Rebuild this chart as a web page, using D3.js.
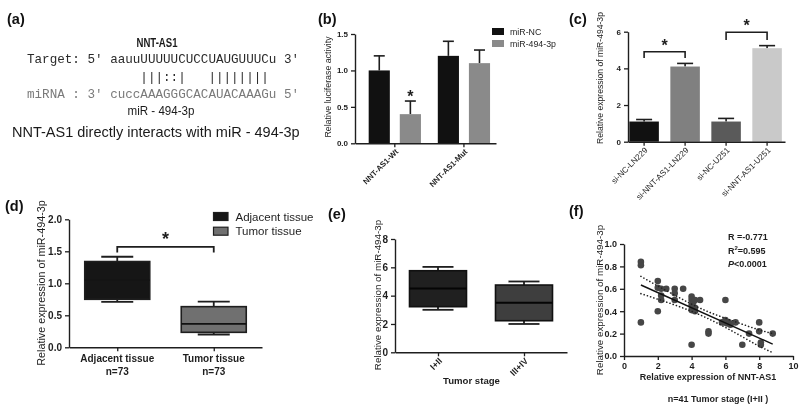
<!DOCTYPE html>
<html><head><meta charset="utf-8">
<script src="https://cdn.jsdelivr.net/npm/d3@7/dist/d3.min.js"></script>
<style>
html,body{margin:0;padding:0;background:#fff;}
svg{display:block;font-family:"Liberation Sans",Arial,sans-serif;will-change:transform;}
.mono{font-family:"Liberation Mono","Courier New",monospace;white-space:pre;}
</style></head>
<body>
<svg id="c" width="800" height="407"></svg>
<script>
// ---------- (a) sequence panel text ----------
const aTitle = "NNT-AS1";
const aTarget = "Target: 5' aauuUUUUUCUCCUAUGUUUCu 3'";
const aPairs  = "               |||::|   ||||||||";
const aMirna  = "miRNA : 3' cuccAAAGGGCACAUACAAAGu 5'";
const aMirName = "miR - 494-3p";
const aCaption = "NNT-AS1 directly interacts with miR - 494-3p";

// ---------- (b) luciferase ----------
const bGroups = ["NNT-AS1-Wt", "NNT-AS1-Mut"];
const bSeries = ["miR-NC", "miR-494-3p"];
const bNC = [1.0, 1.2];
const bNCerr = [0.2, 0.2];
const b494 = [0.4, 1.1];
const b494err = [0.18, 0.18];
const bTicks = [0, 0.5, 1.0, 1.5];

// ---------- (c) qPCR ----------
const cCats = ["si-NC-LN229", "si-NNT-AS1-LN229", "si-NC-U251", "si-NNT-AS1-U251"];
const cVals = [1.1, 4.1, 1.1, 5.1];
const cErr = [0.11, 0.17, 0.17, 0.14];
const cTicks = [0, 2, 4, 6];

// ---------- (d) boxplot tissue ----------
const dCats = ["Adjacent tissue", "Tumor tissue"];
const dN = ["n=73", "n=73"];
const dMin = [0.71, 0.20];
const dQ1 = [0.75, 0.234];
const dMed = [1.05, 0.365];
const dQ3 = [1.34, 0.635];
const dMax = [1.415, 0.715];
const dTicks = [0, 0.5, 1.0, 1.5, 2.0];

// ---------- (e) boxplot stage ----------
const eCats = ["I+II", "III+IV"];
const eMin = [3.0, 2.0];
const eQ1 = [3.22, 2.23];
const eMed = [4.5, 3.5];
const eQ3 = [5.76, 4.75];
const eMax = [6.03, 5.0];
const eTicks = [0, 2, 4, 6, 8];

// ---------- (f) correlation ----------
const fX = [1.0,1.0,1.0, 2.0,2.0,2.0, 2.2,2.2,2.2, 2.5, 3.0,3.0,3.0, 3.5,
            4.0,4.0,4.0,4.0,4.0, 4.1, 4.2,4.2,4.2, 4.5, 5.0,5.0,
            6.0,5.8,6.0,6.1,6.2,6.3,6.0, 6.6, 7.0, 7.4, 8.0,8.0,8.1,8.1, 8.8];
const fY = [0.84,0.81,0.30, 0.67,0.61,0.40, 0.60,0.54,0.50, 0.60, 0.60,0.56,0.50, 0.60,
            0.53,0.50,0.45,0.41,0.10, 0.48, 0.50,0.43,0.40, 0.50, 0.22,0.20,
            0.50,0.30,0.32,0.29,0.30,0.28,0.30, 0.30, 0.10, 0.20, 0.30,0.22,0.12,0.10, 0.20];
const fFitX = [1, 8.8];
const fFitY = [0.634, 0.106];
const fCiX = [1, 2, 3, 4, 5, 6, 7, 8, 8.8];
const fCiHi = [0.711, 0.625, 0.543, 0.463, 0.394, 0.337, 0.284, 0.233, 0.200];
const fCiLo = [0.557, 0.507, 0.456, 0.399, 0.332, 0.255, 0.172, 0.087, 0.030];
const fXTicks = [0, 2, 4, 6, 8, 10];
const fYTicks = [0, 0.2, 0.4, 0.6, 0.8, 1.0];
const fStats = ["R =-0.771", "=0.595", "<0.0001"];

const svg = d3.select("#c");
svg.append("rect").attr("width", 800).attr("height", 407).attr("fill", "#fff");
const INK = "#1e1e1e";

function styleAxis(g, fs, bold) {
  g.select(".domain").attr("stroke", INK).attr("stroke-width", 1.4);
  g.selectAll(".tick line").attr("stroke", INK).attr("stroke-width", 1.3);
  g.selectAll(".tick text").attr("fill", INK).attr("font-size", fs)
    .attr("font-weight", bold ? "bold" : "normal").attr("font-family", "Liberation Sans, Arial, sans-serif");
}
function rotLabels(g, dx, dy) {
  g.selectAll(".tick text").attr("x", 0).attr("y", 0).attr("dy", "0.35em")
    .attr("text-anchor", "end").attr("transform", `translate(${dx},${dy}) rotate(-45)`);
}
function panelLabel(txt, x, y) {
  svg.append("text").attr("x", x).attr("y", y).attr("font-size", 14.5)
    .attr("font-weight", "bold").attr("fill", "#111").text(txt);
}
function yLabel(txt, x, yc, fs, bold) {
  svg.append("text").attr("transform", `translate(${x},${yc}) rotate(-90)`)
    .attr("text-anchor", "middle").attr("font-size", fs).attr("font-weight", bold ? "bold" : "normal")
    .attr("fill", INK).text(txt);
}
function fitW(t, w) {
  const L = t.node().getComputedTextLength();
  const fs = parseFloat(t.attr("font-size"));
  t.attr("font-size", fs * w / L);
}
// horizontally squeeze a centred text to width w (keeps glyph height)
function squeeze(xc, y, txt, fs, bold, w) {
  const g = svg.append("g").attr("transform", `translate(${xc},${y})`);
  const t = g.append("text").attr("x", 0).attr("y", 0).attr("text-anchor", "middle")
    .attr("font-size", fs).attr("font-weight", bold ? "bold" : "normal").attr("fill", "#1a1a1a").text(txt);
  const L = t.node().getComputedTextLength();
  t.attr("transform", `scale(${w / L},1)`);
}

// ================= (a) =================
panelLabel("(a)", 7, 24);
squeeze(157, 47, aTitle, 12.5, true, 41);
svg.append("text").attr("class", "mono").attr("xml:space", "preserve").attr("x", 27).attr("y", 63)
  .attr("font-size", 12.6).attr("fill", "#2a2a2a").text(aTarget);
svg.append("text").attr("class", "mono").attr("xml:space", "preserve").attr("x", 27).attr("y", 81)
  .attr("font-size", 12.6).attr("fill", "#2a2a2a").text(aPairs);
svg.append("text").attr("class", "mono").attr("xml:space", "preserve").attr("x", 27).attr("y", 98)
  .attr("font-size", 12.6).attr("fill", "#7a7a7a").text(aMirna);
squeeze(161, 115, aMirName, 13.5, false, 67);
fitW(svg.append("text").attr("x", 12).attr("y", 137)
  .attr("font-size", 14).attr("fill", "#1a1a1a").text(aCaption), 288);

// ================= (b) =================
panelLabel("(b)", 318, 24);
{
  const y = d3.scaleLinear().domain([0, 1.5]).range([143.3, 34]);
  const x0 = d3.scaleBand().domain(bGroups).range([355, 496]).paddingInner(0.1).paddingOuter(0.07).align(0.9);
  const x1 = d3.scaleBand().domain(bSeries).range([0, x0.bandwidth()]).paddingInner(0.32).paddingOuter(0.16);
  const colors = { "miR-NC": "#111111", "miR-494-3p": "#8a8a8a" };
  const vals = { "miR-NC": bNC, "miR-494-3p": b494 };
  const errs = { "miR-NC": bNCerr, "miR-494-3p": b494err };
  bGroups.forEach((g, i) => {
    bSeries.forEach(s => {
      const xl = x0(g) + x1(s), w = x1.bandwidth(), xc = xl + w / 2;
      const v = vals[s][i], e = errs[s][i];
      svg.append("line").attr("x1", xc).attr("x2", xc).attr("y1", y(v)).attr("y2", y(v + e))
        .attr("stroke", INK).attr("stroke-width", 1.6);
      svg.append("line").attr("x1", xc - w * 0.26).attr("x2", xc + w * 0.26).attr("y1", y(v + e)).attr("y2", y(v + e))
        .attr("stroke", INK).attr("stroke-width", 1.6);
      svg.append("rect").attr("x", xl).attr("y", y(v)).attr("width", w).attr("height", y(0) - y(v))
        .attr("fill", colors[s]);
    });
  });
  svg.append("text").attr("x", x0(bGroups[0]) + x1(bSeries[1]) + x1.bandwidth() / 2).attr("y", y(b494[0] + b494err[0]) + 1)
    .attr("text-anchor", "middle").attr("font-size", 16).attr("font-weight", "bold").attr("fill", INK).text("*");
  const gy = svg.append("g").attr("transform", "translate(355,0)")
    .call(d3.axisLeft(y).tickValues(bTicks).tickFormat(d3.format(".1f")).tickSize(4).tickSizeOuter(0));
  styleAxis(gy, 8, true);
  const gx = svg.append("g").attr("transform", "translate(0,143.3)")
    .call(d3.axisBottom(x0).tickSize(4).tickSizeOuter(0));
  styleAxis(gx, 7.8, true); rotLabels(gx, 2, 7);
  yLabel("Relative luciferase activity", 331, 87, 8.8, false);
  bSeries.forEach((s, i) => {
    svg.append("rect").attr("x", 492).attr("y", 28 + i * 12).attr("width", 12).attr("height", 7).attr("fill", colors[s]);
    svg.append("text").attr("x", 510).attr("y", 35 + i * 12).attr("font-size", 8.8).attr("fill", INK).text(s);
  });
}

// ================= (c) =================
panelLabel("(c)", 569, 24);
{
  const y = d3.scaleLinear().domain([0, 6]).range([141.7, 31.7]);
  const x = d3.scaleBand().domain(cCats).range([628, 785]).paddingInner(0.28).paddingOuter(0.055).align(0.3);
  const fills = ["#111111", "#808080", "#5a5a5a", "#c9c9c9"];
  cCats.forEach((c, i) => {
    const xl = x(c), w = x.bandwidth(), xc = xl + w / 2, v = cVals[i], e = cErr[i];
    svg.append("line").attr("x1", xc).attr("x2", xc).attr("y1", y(v)).attr("y2", y(v + e)).attr("stroke", INK).attr("stroke-width", 1.6);
    svg.append("line").attr("x1", xc - 8).attr("x2", xc + 8).attr("y1", y(v + e)).attr("y2", y(v + e)).attr("stroke", INK).attr("stroke-width", 1.6);
    svg.append("rect").attr("x", xl).attr("y", y(v)).attr("width", w).attr("height", y(0) - y(v)).attr("fill", fills[i]);
  });
  const br = [[0, 1, 4.57, 4.91], [2, 3, 5.55, 5.97]];
  br.forEach(([a, b, lo, hi]) => {
    const xa = x(cCats[a]) + x.bandwidth() / 2, xb = x(cCats[b]) + x.bandwidth() / 2;
    svg.append("path").attr("d", `M${xa},${y(lo)}V${y(hi)}H${xb}V${y(lo)}`)
      .attr("fill", "none").attr("stroke", INK).attr("stroke-width", 1.6);
    svg.append("text").attr("x", (xa + xb) / 2).attr("y", y(hi) - 1).attr("text-anchor", "middle")
      .attr("font-size", 16).attr("font-weight", "bold").attr("fill", INK).text("*");
  });
  const gy = svg.append("g").attr("transform", "translate(628,0)")
    .call(d3.axisLeft(y).tickValues(cTicks).tickFormat(d3.format("d")).tickSize(4).tickSizeOuter(0));
  styleAxis(gy, 8, true);
  const gx = svg.append("g").attr("transform", "translate(0,141.7)")
    .call(d3.axisBottom(x).tickSize(4).tickSizeOuter(0));
  styleAxis(gx, 8.2, false); rotLabels(gx, 2, 7);
  yLabel("Relative expression of miR-494-3p", 603, 78, 8.6, false);
}

// ================= (d) =================
panelLabel("(d)", 5, 211);
{
  const y = d3.scaleLinear().domain([0, 2]).range([347.3, 219.3]);
  const x = d3.scalePoint().domain(dCats).range([69, 262]).padding(0.5);
  const fills = ["#161616", "#707070"];
  dCats.forEach((c, i) => {
    const xc = x(c), bw = 65, cw = 32;
    svg.append("line").attr("x1", xc).attr("x2", xc).attr("y1", y(dMax[i])).attr("y2", y(dMin[i])).attr("stroke", INK).attr("stroke-width", 1.8);
    [dMax[i], dMin[i]].forEach(v => svg.append("line").attr("x1", xc - cw / 2).attr("x2", xc + cw / 2)
      .attr("y1", y(v)).attr("y2", y(v)).attr("stroke", INK).attr("stroke-width", 1.8));
    svg.append("rect").attr("x", xc - bw / 2).attr("y", y(dQ3[i])).attr("width", bw).attr("height", y(dQ1[i]) - y(dQ3[i]))
      .attr("fill", fills[i]).attr("stroke", INK).attr("stroke-width", 1.6);
    svg.append("line").attr("x1", xc - bw / 2).attr("x2", xc + bw / 2).attr("y1", y(dMed[i])).attr("y2", y(dMed[i]))
      .attr("stroke", i === 0 ? "#141414" : "#111").attr("stroke-width", 1.8);
  });
  const xa = x(dCats[0]), xb = x(dCats[1]);
  svg.append("path").attr("d", `M${xa},${y(1.48)}V${y(1.57)}H${xb}V${y(1.48)}`)
    .attr("fill", "none").attr("stroke", INK).attr("stroke-width", 1.8);
  svg.append("text").attr("x", (xa + xb) / 2).attr("y", 245).attr("text-anchor", "middle")
    .attr("font-size", 18).attr("font-weight", "bold").attr("fill", INK).text("*");
  const gy = svg.append("g").attr("transform", "translate(69,0)")
    .call(d3.axisLeft(y).tickValues(dTicks).tickFormat(d3.format(".1f")).tickSize(4).tickSizeOuter(0));
  styleAxis(gy, 10, true);
  const gx = svg.append("g").attr("transform", "translate(0,347.3)")
    .call(d3.axisBottom(x).tickSize(4).tickSizeOuter(0).tickFormat(() => ""));
  styleAxis(gx, 10, true);
  dCats.forEach((c, i) => {
    svg.append("text").attr("x", x(c)).attr("y", 362).attr("text-anchor", "middle").attr("font-size", 10)
      .attr("font-weight", "bold").attr("fill", INK).text(c);
    svg.append("text").attr("x", x(c)).attr("y", 374.5).attr("text-anchor", "middle").attr("font-size", 10)
      .attr("font-weight", "bold").attr("fill", INK).text(dN[i]);
  });
  yLabel("Relative expression of miR-494-3p", 45, 283, 10.8, false);
  dCats.forEach((c, i) => {
    svg.append("rect").attr("x", 213.5).attr("y", 212.5 + i * 14.7).attr("width", 14.5).attr("height", 8)
      .attr("fill", fills[i]).attr("stroke", INK).attr("stroke-width", 1.2);
    svg.append("text").attr("x", 235.5).attr("y", 220.5 + i * 14.7).attr("font-size", 11.5).attr("fill", INK).text(c);
  });
}

// ================= (e) =================
panelLabel("(e)", 328, 219);
{
  const y = d3.scaleLinear().domain([0, 8]).range([352.3, 239]);
  const x = d3.scalePoint().domain(eCats).range([395, 567]).padding(0.5);
  const fills = ["#202020", "#3e3e3e"];
  eCats.forEach((c, i) => {
    const xc = x(c), bw = 57, cw = 31;
    svg.append("line").attr("x1", xc).attr("x2", xc).attr("y1", y(eMax[i])).attr("y2", y(eMin[i])).attr("stroke", INK).attr("stroke-width", 1.8);
    [eMax[i], eMin[i]].forEach(v => svg.append("line").attr("x1", xc - cw / 2).attr("x2", xc + cw / 2)
      .attr("y1", y(v)).attr("y2", y(v)).attr("stroke", INK).attr("stroke-width", 1.8));
    svg.append("rect").attr("x", xc - bw / 2).attr("y", y(eQ3[i])).attr("width", bw).attr("height", y(eQ1[i]) - y(eQ3[i]))
      .attr("fill", fills[i]).attr("stroke", "#111").attr("stroke-width", 1.6);
    svg.append("line").attr("x1", xc - bw / 2).attr("x2", xc + bw / 2).attr("y1", y(eMed[i])).attr("y2", y(eMed[i]))
      .attr("stroke", "#050505").attr("stroke-width", 2);
  });
  const gy = svg.append("g").attr("transform", "translate(395,0)")
    .call(d3.axisLeft(y).tickValues(eTicks).tickFormat(d3.format("d")).tickSize(4).tickSizeOuter(0));
  styleAxis(gy, 10, true);
  const gx = svg.append("g").attr("transform", "translate(0,352.3)")
    .call(d3.axisBottom(x).tickSize(4).tickSizeOuter(0));
  styleAxis(gx, 9, true); rotLabels(gx, 2, 7);
  svg.append("text").attr("x", 471.5).attr("y", 384).attr("text-anchor", "middle").attr("font-size", 9.6)
    .attr("font-weight", "bold").attr("fill", INK).text("Tumor stage");
  yLabel("Relative expression of miR-494-3p", 381, 295, 9.8, false);
}

// ================= (f) =================
panelLabel("(f)", 569, 216);
{
  const x = d3.scaleLinear().domain([0, 10]).range([624, 793]);
  const y = d3.scaleLinear().domain([0, 1]).range([356, 244]);
  const ci = fCiX.map((v, i) => [v, fCiHi[i], fCiLo[i]]);
  const lineHi = d3.line().x(d => x(d[0])).y(d => y(d[1])).curve(d3.curveMonotoneX);
  const lineLo = d3.line().x(d => x(d[0])).y(d => y(d[2])).curve(d3.curveMonotoneX);
  svg.selectAll(".pt").data(fX.map((v, i) => [v, fY[i]])).enter().append("circle")
    .attr("cx", d => x(d[0])).attr("cy", d => y(d[1])).attr("r", 3.3).attr("fill", "#464646");
  [lineHi, lineLo].forEach(l => svg.append("path").attr("d", l(ci)).attr("fill", "none")
    .attr("stroke", "#222").attr("stroke-width", 1.6).attr("stroke-dasharray", "0.1,3.3").attr("stroke-linecap", "round"));
  svg.append("line").attr("x1", x(fFitX[0])).attr("x2", x(fFitX[1])).attr("y1", y(fFitY[0])).attr("y2", y(fFitY[1]))
    .attr("stroke", "#111").attr("stroke-width", 1.4);
  const gy = svg.append("g").attr("transform", "translate(624,0)")
    .call(d3.axisLeft(y).tickValues(fYTicks).tickFormat(d3.format(".1f")).tickSize(4).tickSizeOuter(0));
  styleAxis(gy, 9, true);
  const gx = svg.append("g").attr("transform", "translate(0,356)")
    .call(d3.axisBottom(x).tickValues(fXTicks).tickFormat(d3.format("d")).tickSize(4).tickSizeOuter(0));
  styleAxis(gx, 9, true);
  svg.append("text").attr("x", 728).attr("y", 240).attr("font-size", 9).attr("font-weight", "bold").attr("fill", INK).text(fStats[0]);
  const t2 = svg.append("text").attr("x", 728).attr("y", 254).attr("font-size", 9).attr("font-weight", "bold").attr("fill", INK);
  t2.append("tspan").text("R");
  t2.append("tspan").attr("font-size", 6).attr("dy", -4).text("2");
  t2.append("tspan").attr("dy", 4).text(fStats[1]);
  const t3 = svg.append("text").attr("x", 728).attr("y", 267).attr("font-size", 9).attr("font-weight", "bold").attr("fill", INK);
  t3.append("tspan").attr("font-style", "italic").text("P");
  t3.append("tspan").text(fStats[2]);
  svg.append("text").attr("x", 708).attr("y", 380).attr("text-anchor", "middle").attr("font-size", 9)
    .attr("font-weight", "bold").attr("fill", INK).text("Relative expression of NNT-AS1");
  svg.append("text").attr("x", 718).attr("y", 401.5).attr("text-anchor", "middle").attr("font-size", 9)
    .attr("font-weight", "bold").attr("fill", INK).text("n=41 Tumor stage (I+II )");
  yLabel("Relative expression of miR-494-3p", 603, 300, 9.8, false);
}
</script>
</body></html>
